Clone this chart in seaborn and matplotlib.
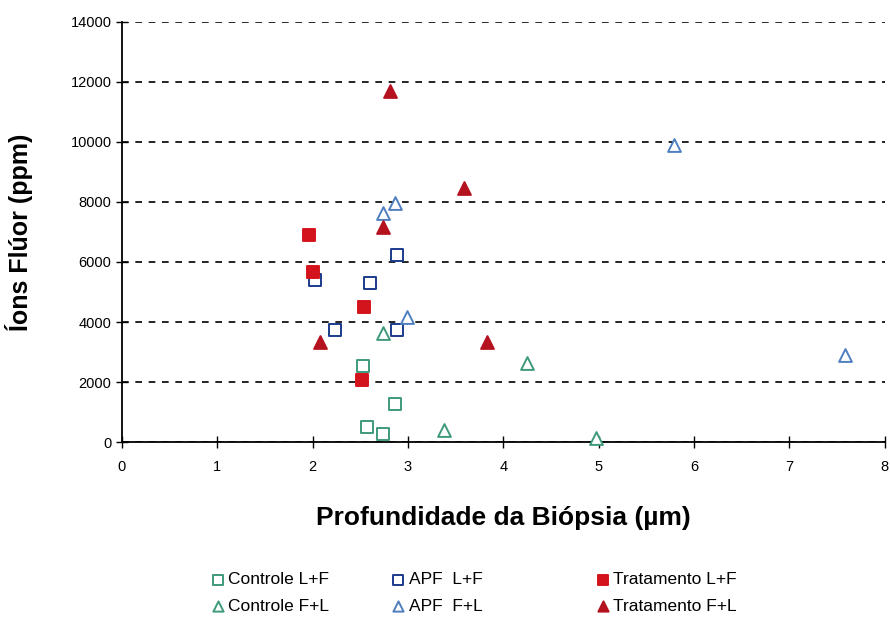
import pandas as pd
import matplotlib
matplotlib.use("Agg")
import matplotlib.pyplot as plt
import seaborn as sns

# series (depth in um, fluoride in ppm)
ctrl_lf_x = [2.53, 2.86, 2.57, 2.74]
ctrl_lf_y = [2530, 1270, 500, 270]
ctrl_fl_x = [2.74, 3.38, 4.25, 4.97]
ctrl_fl_y = [3630, 400, 2630, 130]
apf_lf_x = [2.03, 2.24, 2.6, 2.89, 2.88]
apf_lf_y = [5400, 3730, 5300, 6230, 3730]
apf_fl_x = [2.74, 2.86, 2.99, 5.79, 7.58]
apf_fl_y = [7630, 7970, 4170, 9900, 2900]
trat_lf_x = [1.96, 2.0, 2.54, 2.52]
trat_lf_y = [6900, 5670, 4500, 2070]
trat_fl_x = [2.81, 2.74, 3.59, 2.08, 3.83]
trat_fl_y = [11700, 7170, 8470, 3330, 3330]

sns.set_style("white")
plt.rcParams['font.family'] = ['Liberation Sans', 'DejaVu Sans']
plt.rcParams['text.color'] = 'black'
plt.rcParams['axes.labelcolor'] = 'black'

fig = plt.figure(figsize=(8.9, 6.21), dpi=100)
ax = fig.add_axes([0.137, 0.288, 0.857, 0.677])

green = "#3f9a7c"
navy = "#1b3c8c"
lblue = "#4f7fbf"
red = "#d4141c"
dred = "#b5121f"

series = [
    (ctrl_lf_x, ctrl_lf_y, "Controle L+F", "s", "white", green),
    (ctrl_fl_x, ctrl_fl_y, "Controle F+L", "^", "white", green),
    (apf_lf_x, apf_lf_y, "APF  L+F", "s", "white", navy),
    (apf_fl_x, apf_fl_y, "APF  F+L", "^", "white", lblue),
    (trat_lf_x, trat_lf_y, "Tratamento L+F", "s", red, red),
    (trat_fl_x, trat_fl_y, "Tratamento F+L", "^", dred, dred),
]
for xs, ys, name, mk, fc, ec in series:
    sns.scatterplot(x=xs, y=ys, ax=ax, marker=mk, s=85, color=fc,
                    edgecolor=ec, linewidth=1.4, label=name, zorder=3,
                    clip_on=False)

ax.set_xlim(0, 8)
ax.set_ylim(0, 14000)
ax.set_xticks(range(0, 9))
ax.set_yticks(range(0, 14001, 2000))
ax.yaxis.grid(True, linestyle=(0, (4, 4)), color="black", linewidth=1.2)
ax.xaxis.grid(False)
for s in ["top", "right"]:
    ax.spines[s].set_visible(False)
for s in ["left", "bottom"]:
    ax.spines[s].set_color("black")
    ax.spines[s].set_linewidth(1.3)
ax.tick_params(axis="both", direction="inout", length=8, width=1, color="black",
               labelcolor="black", labelsize=10.5, left=True, bottom=True)
ax.tick_params(axis="x", pad=9)

ax.set_xlabel("Profundidade da Biópsia (µm)", fontsize=19, fontweight="bold", labelpad=23)
ax.set_ylabel("Íons Flúor (ppm)", fontsize=18, fontweight="bold", labelpad=27)

# three small legends, one per column like the reference
handles, labels = ax.get_legend_handles_labels()
ax.get_legend().remove()
col_x = [0.222, 0.425, 0.655]
for i, cx in enumerate(col_x):
    fig.legend(handles[2 * i:2 * i + 2], labels[2 * i:2 * i + 2],
               loc="upper left", bbox_to_anchor=(cx, 0.098), frameon=False,
               fontsize=12.5, handletextpad=0.15, markerscale=0.8,
               labelspacing=0.65, handlelength=0.9, borderpad=0.2)

fig.savefig("out.png", dpi=100)
